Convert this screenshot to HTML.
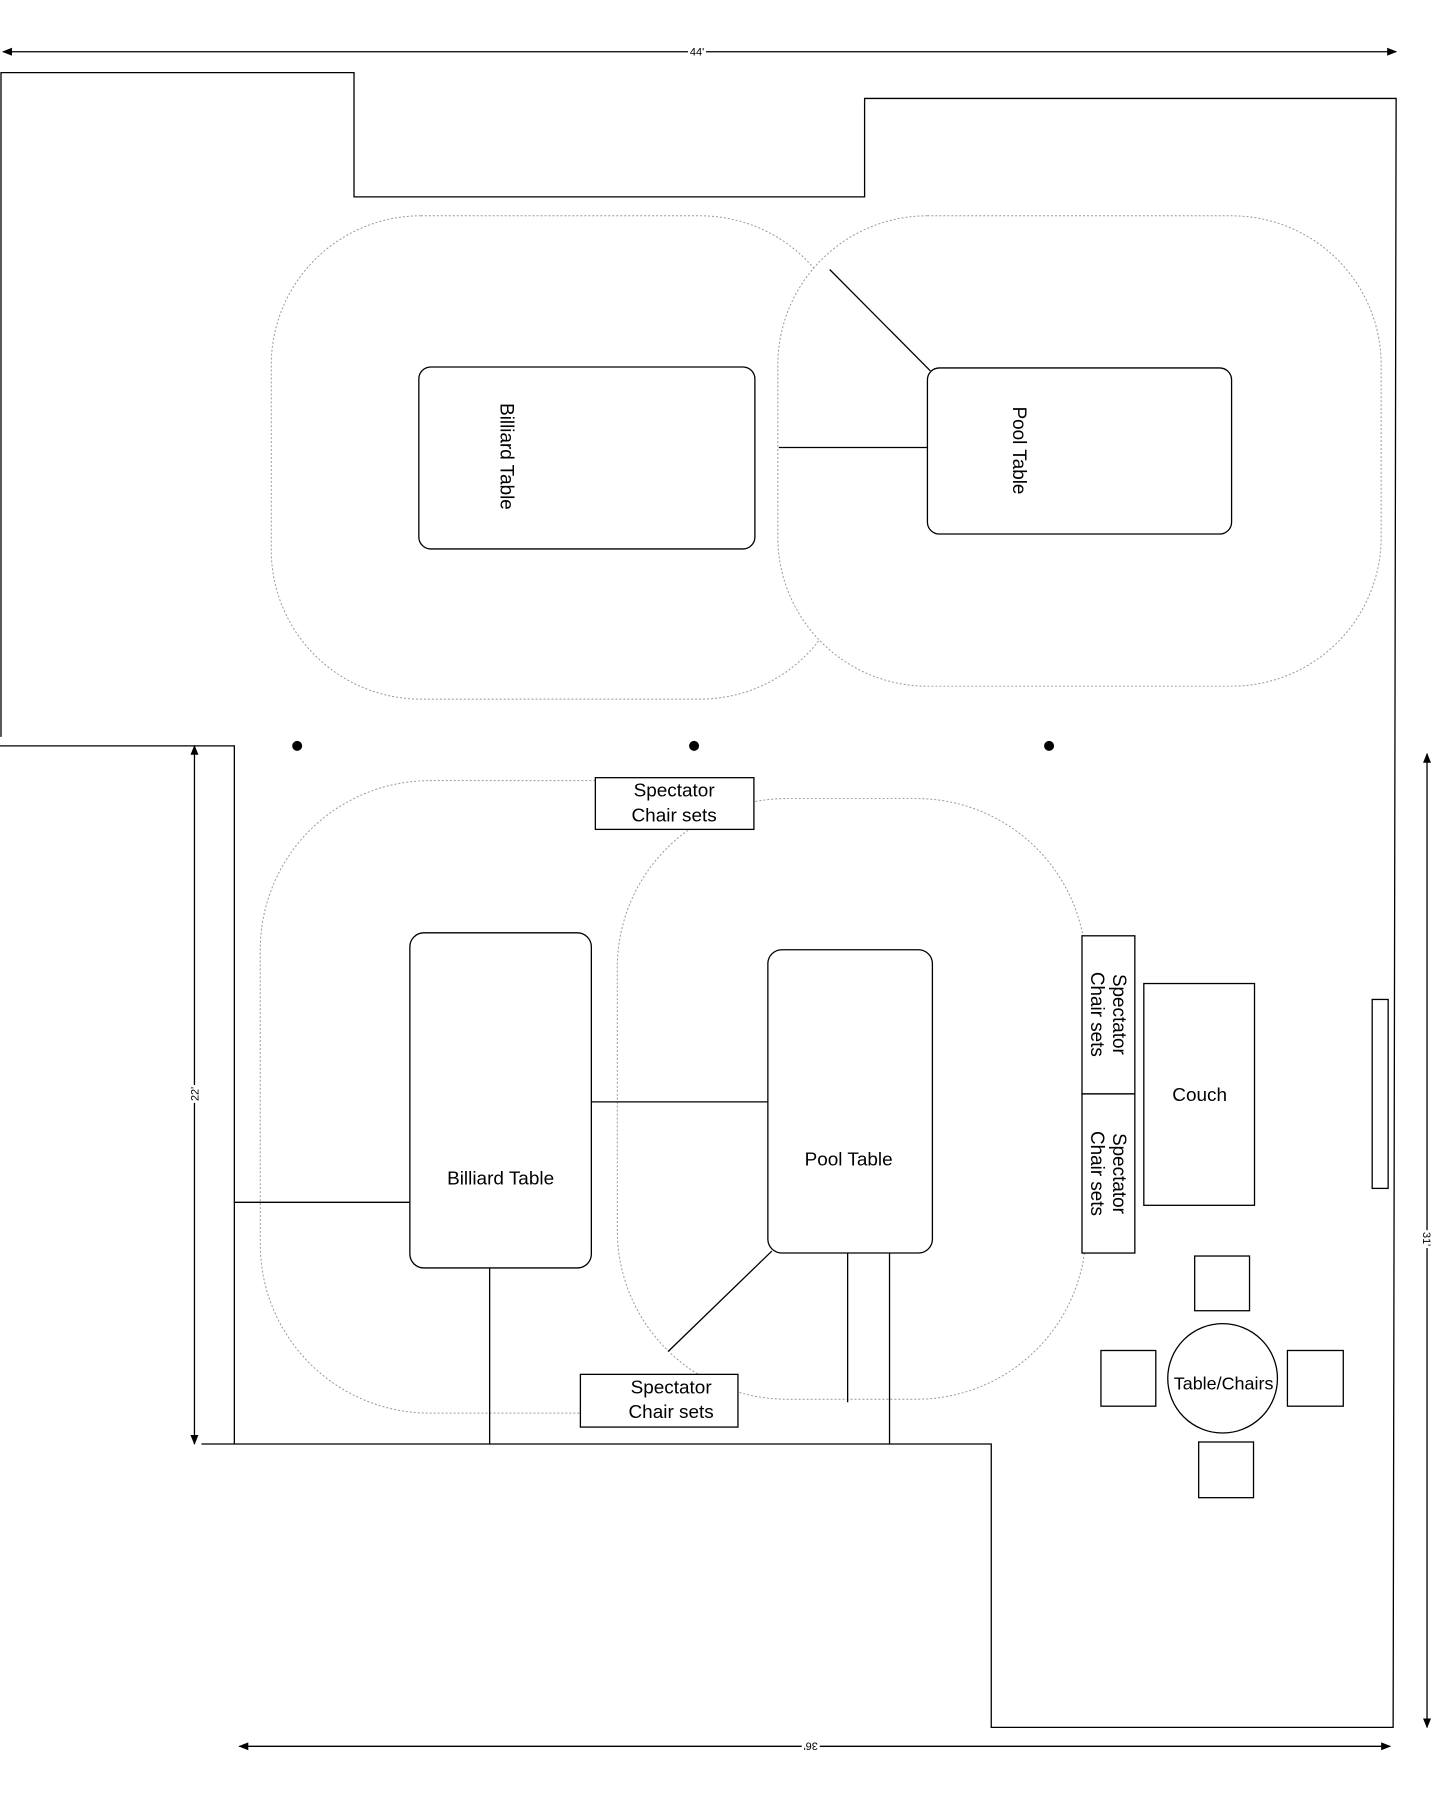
<!DOCTYPE html>
<html><head><style>html,body{margin:0;background:#fff}svg{display:block}</style></head><body>
<svg width="1440" height="1800" viewBox="0 0 1444 1810" preserveAspectRatio="none" xmlns="http://www.w3.org/2000/svg" font-family="Liberation Sans, sans-serif">
<defs><marker id="a" markerWidth="10" markerHeight="8" refX="9" refY="4" orient="auto-start-reverse" markerUnits="userSpaceOnUse"><path d="M0,0 L10,4 L0,8z" fill="#000"/></marker></defs>
<g fill="none" stroke="#000" stroke-width="1.3">
<line x1="3" y1="52" x2="1400" y2="52" marker-start="url(#a)" marker-end="url(#a)"/>
<polyline points="1,741 1,73 355,73 355,198 867,198 867,99 1400,99 1397,1737 994,1737 994,1452 202,1452"/>
<polyline points="0,750 235,750 235,1452"/>
<line x1="195" y1="750" x2="195" y2="1452" marker-start="url(#a)" marker-end="url(#a)"/>
<line x1="1431" y1="758" x2="1431" y2="1737" marker-start="url(#a)" marker-end="url(#a)"/>
<line x1="240" y1="1756" x2="1394" y2="1756" marker-start="url(#a)" marker-end="url(#a)"/>
</g>
<g fill="none" stroke="#999" stroke-width="1" stroke-dasharray="2 2">
<rect x="272" y="217" width="580" height="486" rx="150"/>
<rect x="780" y="217" width="605" height="473" rx="150" fill="#fff"/>
<rect x="261" y="785" width="520" height="636" rx="170"/>
<rect x="619" y="803" width="470" height="604" rx="170" fill="#fff"/>
</g>
<g fill="#fff" stroke="#000" stroke-width="1.3">
<line x1="781" y1="450" x2="930" y2="450"/>
<line x1="832" y1="271" x2="933" y2="373"/>
<rect x="420" y="369" width="337" height="183" rx="12"/>
<rect x="930" y="370" width="305" height="167" rx="12"/>
<line x1="593" y1="1108" x2="770" y2="1108"/>
<line x1="235" y1="1209" x2="411" y2="1209"/>
<line x1="491" y1="1275" x2="491" y2="1452"/>
<line x1="850" y1="1260" x2="850" y2="1410"/>
<line x1="892" y1="1260" x2="892" y2="1452"/>
<line x1="774" y1="1258" x2="670" y2="1359"/>
<rect x="411" y="938" width="182" height="337" rx="14"/>
<rect x="770" y="955" width="165" height="305" rx="14"/>
<rect x="597" y="782" width="159" height="52"/>
<rect x="582" y="1382" width="158" height="53"/>
<rect x="1085" y="941" width="53" height="159"/>
<rect x="1085" y="1100" width="53" height="160"/>
<rect x="1147" y="989" width="111" height="223"/>
<rect x="1376" y="1005" width="16" height="190"/>
<rect x="1198" y="1263" width="55" height="55"/>
<rect x="1104" y="1358" width="55" height="56"/>
<rect x="1291" y="1358" width="56" height="56"/>
<rect x="1202" y="1450" width="55" height="56"/>
<ellipse cx="1226" cy="1386" rx="55" ry="55"/>
</g>
<g fill="#000"><circle cx="298" cy="750" r="5"/><circle cx="696" cy="750" r="5"/><circle cx="1052" cy="750" r="5"/></g>
<g font-size="11" text-anchor="middle">
<rect x="690" y="45" width="18" height="12" fill="#fff"/><text x="699" y="56">44'</text>
<g transform="translate(195,1100) rotate(-90)"><rect x="-9" y="-6" width="18" height="12" fill="#fff"/><text y="4">22'</text></g>
<g transform="translate(1431,1246) rotate(90)"><rect x="-9" y="-6" width="18" height="12" fill="#fff"/><text y="4">31'</text></g>
<g transform="translate(813,1756) rotate(180)"><rect x="-9" y="-6" width="18" height="12" fill="#fff"/><text y="4">36'</text></g>
</g>
<g font-size="19" text-anchor="middle" fill="#000">
<text transform="translate(509,459) rotate(90)" y="7">Billiard Table</text>
<text transform="translate(1023,453) rotate(90)" y="7">Pool Table</text>
<text x="502" y="1191">Billiard Table</text>
<text x="851" y="1172">Pool Table</text>
<text x="676" y="801">Spectator</text><text x="676" y="826">Chair sets</text>
<text x="673" y="1401">Spectator</text><text x="673" y="1426">Chair sets</text>
<text x="1203" y="1107">Couch</text>
<text x="1227" y="1397" font-size="18">Table/Chairs</text>
<g transform="translate(1111,1020) rotate(90)"><text y="-5">Spectator</text><text y="17">Chair sets</text></g>
<g transform="translate(1111,1180) rotate(90)"><text y="-5">Spectator</text><text y="17">Chair sets</text></g>
</g>
</svg>
</body></html>
